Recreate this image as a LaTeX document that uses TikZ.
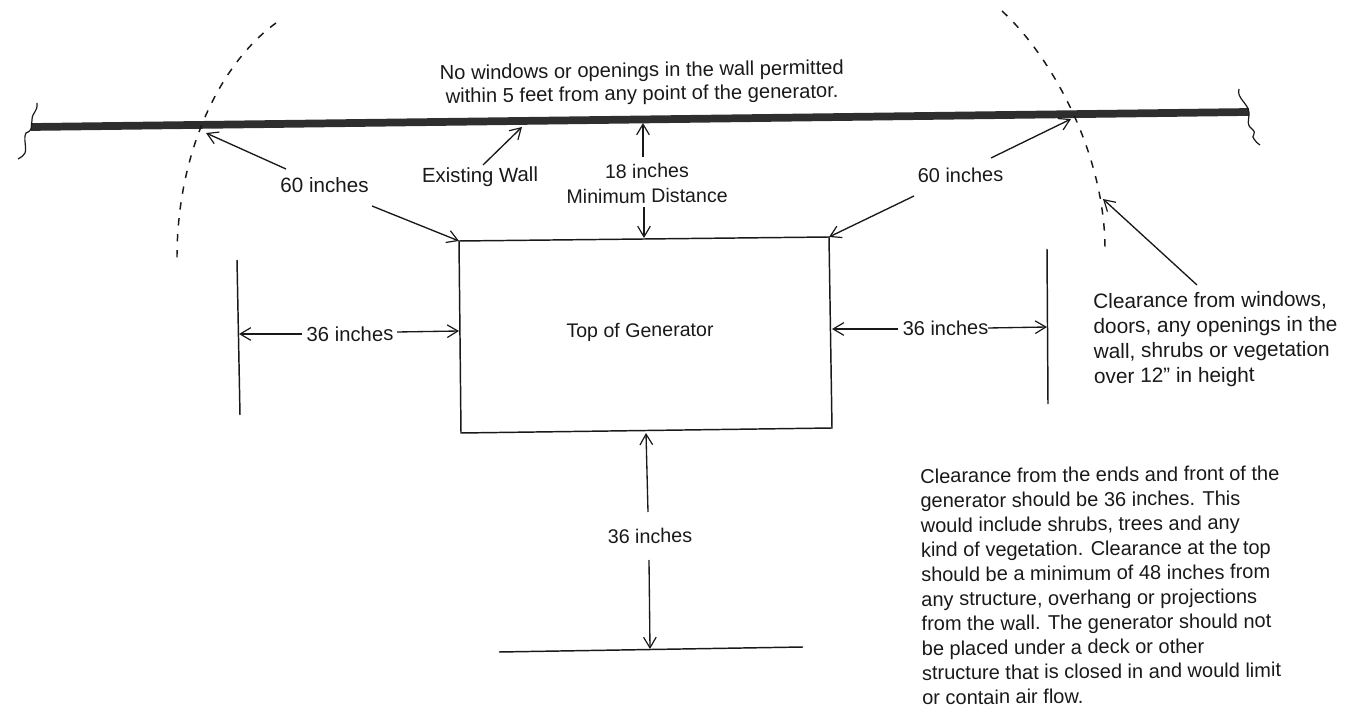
\documentclass[tikz,border=0pt]{standalone}
\usepackage{fontspec}
\setmainfont{Liberation Sans}
\usetikzlibrary{arrows.meta}
\tikzset{
  x=0.75pt,y=-0.75pt,
  lbl/.style 2 args={font=\fontsize{#1pt}{#2pt}\selectfont,text=black!90,inner sep=0pt,align=center,rotate=0.5},
  para/.style 2 args={lbl={#1}{#2},align=left,anchor=north west},
  dim/.style={line width=1pt,black!90,-{Straight Barb[length=8pt,width=9.5pt,line width=0.9pt]}},
  dimline/.style={line width=1.1pt,black!90},
  arc/.style={line width=1.1pt,black!90,dash pattern=on 5.5pt off 6.5pt},
  wall/.style={line width=5.8pt,black!82},
  squig/.style={line width=0.9pt,black!90}
}
\begin{document}
\begin{tikzpicture}
\useasboundingbox (0,0) rectangle (1354,709);
% wall
\coordinate (wl) at (31,127);
\coordinate (wr) at (1249,112);
\draw[wall] (wl) -- (wr);
\draw[squig] (37,103) .. controls (38,112) and (32,112) .. (32,120) .. controls (31,128) and (33,130) .. (26,133) .. controls (23,138) and (27,148) .. (25,153) .. controls (24,156) and (21,157) .. (18,159);
\draw[squig] (1239,89) .. controls (1236,98) and (1249,104) .. (1249,113) .. controls (1249,122) and (1246,124) .. (1252,129) .. controls (1258,134) and (1250,136) .. (1254,139) .. controls (1255,142) and (1258,143) .. (1260,145);
% dashed arcs
\draw[arc] (276,23) .. controls (222,62) and (176,150) .. (177,262);
\draw[arc] (1002,11) .. controls (1050,55) and (1104,150) .. (1105,247);
% generator
\coordinate (g1) at (459,241);
\coordinate (g2) at (829,237);
\coordinate (g3) at (832,428);
\coordinate (g4) at (461,433);
\draw[dimline] (g1) -- (g2) -- (g3) -- (g4) -- cycle;
\node[lbl={14.7}{17}] (gen) at (640,332) {Top of Generator};
% top text
\node[lbl={15.1}{17.5},rotate=0.3] (top) at (642,83.5) {No windows or openings in the wall permitted\\within 5 feet from any point of the generator.};
% 60 inches left
\node[lbl={15.5}{17}] (l60) at (324.5,185) {60 inches};
\coordinate (l60t) at (286,169);
\coordinate (l60a) at (206,133);
\coordinate (l60u) at (372,206);
\draw[dim] (l60t) -- (l60a);
\draw[dim] (l60u) -- (g1);
% existing wall
\node[lbl={15.3}{17}] (ew) at (480,177) {Existing Wall};
\coordinate (ewt) at (483,165);
\coordinate (ewa) at (522,127);
\draw[dim] (ewt) -- (ewa);
% 18 inches
\node[lbl={14.7}{18.75}] (m18) at (647,183.5) {18 inches\\Minimum Distance};
\coordinate (m18t) at (643,157);
\coordinate (m18a) at (643,123);
\coordinate (m18u) at (644,207);
\coordinate (m18b) at (644,238);
\draw[dim] (m18t) -- (m18a);
\draw[dim] (m18u) -- (m18b);
% 60 inches right
\node[lbl={15}{17}] (r60) at (960.5,175) {60 inches};
\coordinate (r60t) at (991,158);
\coordinate (r60a) at (1071,119);
\coordinate (r60u) at (914,196);
\draw[dim] (r60t) -- (r60a);
\draw[dim] (r60u) -- (g2);
% clearance
\node[para={15.6}{18.75}] (cl) at (1093,293) {Clearance from windows,\\doors, any openings in the\\wall, shrubs or vegetation\\over 12” in height};
\coordinate (clt) at (1197,285);
\coordinate (cla) at (1103,199);
\draw[dim] (clt) -- (cla);
% left 36
\coordinate (lv1) at (237,260);
\coordinate (lv2) at (240,415);
\draw[dimline] (lv1) -- (lv2);
\node[lbl={15.2}{17}] (l36) at (350,334) {36 inches};
\coordinate (l36t) at (302,334);
\coordinate (l36a) at (239,334);
\coordinate (l36u) at (397,332);
\coordinate (l36b) at (459,331);
\draw[dim] (l36t) -- (l36a);
\draw[dim] (l36u) -- (l36b);
% right 36
\coordinate (rv1) at (1047,249);
\coordinate (rv2) at (1048,404);
\draw[dimline] (rv1) -- (rv2);
\node[lbl={15}{17}] (r36) at (945.5,328) {36 inches};
\coordinate (r36t) at (898,329);
\coordinate (r36a) at (832,329);
\coordinate (r36u) at (988,328);
\coordinate (r36b) at (1047,327);
\draw[dim] (r36t) -- (r36a);
\draw[dim] (r36u) -- (r36b);
% bottom 36
\node[lbl={14.8}{17}] (b36) at (650,536) {36 inches};
\coordinate (b36t) at (648,512);
\coordinate (b36a) at (646,433);
\coordinate (b36u) at (649,560);
\coordinate (b36b) at (650,649);
\draw[dim] (b36t) -- (b36a);
\draw[dim] (b36u) -- (b36b);
\coordinate (h1) at (499,652);
\coordinate (h2) at (803,647);
\draw[dimline] (h1) -- (h2);
% bottom-right text
\node[para={15}{18.45}] (txt) at (920,468.5) {Clearance from the ends and front of the\\generator should be 36 inches. This\\would include shrubs, trees and any\\kind of vegetation. Clearance at the top\\should be a minimum of 48 inches from\\any structure, overhang or projections\\from the wall. The generator should not\\be placed under a deck or other\\structure that is closed in and would limit\\or contain air flow.};
\end{tikzpicture}
\end{document}
